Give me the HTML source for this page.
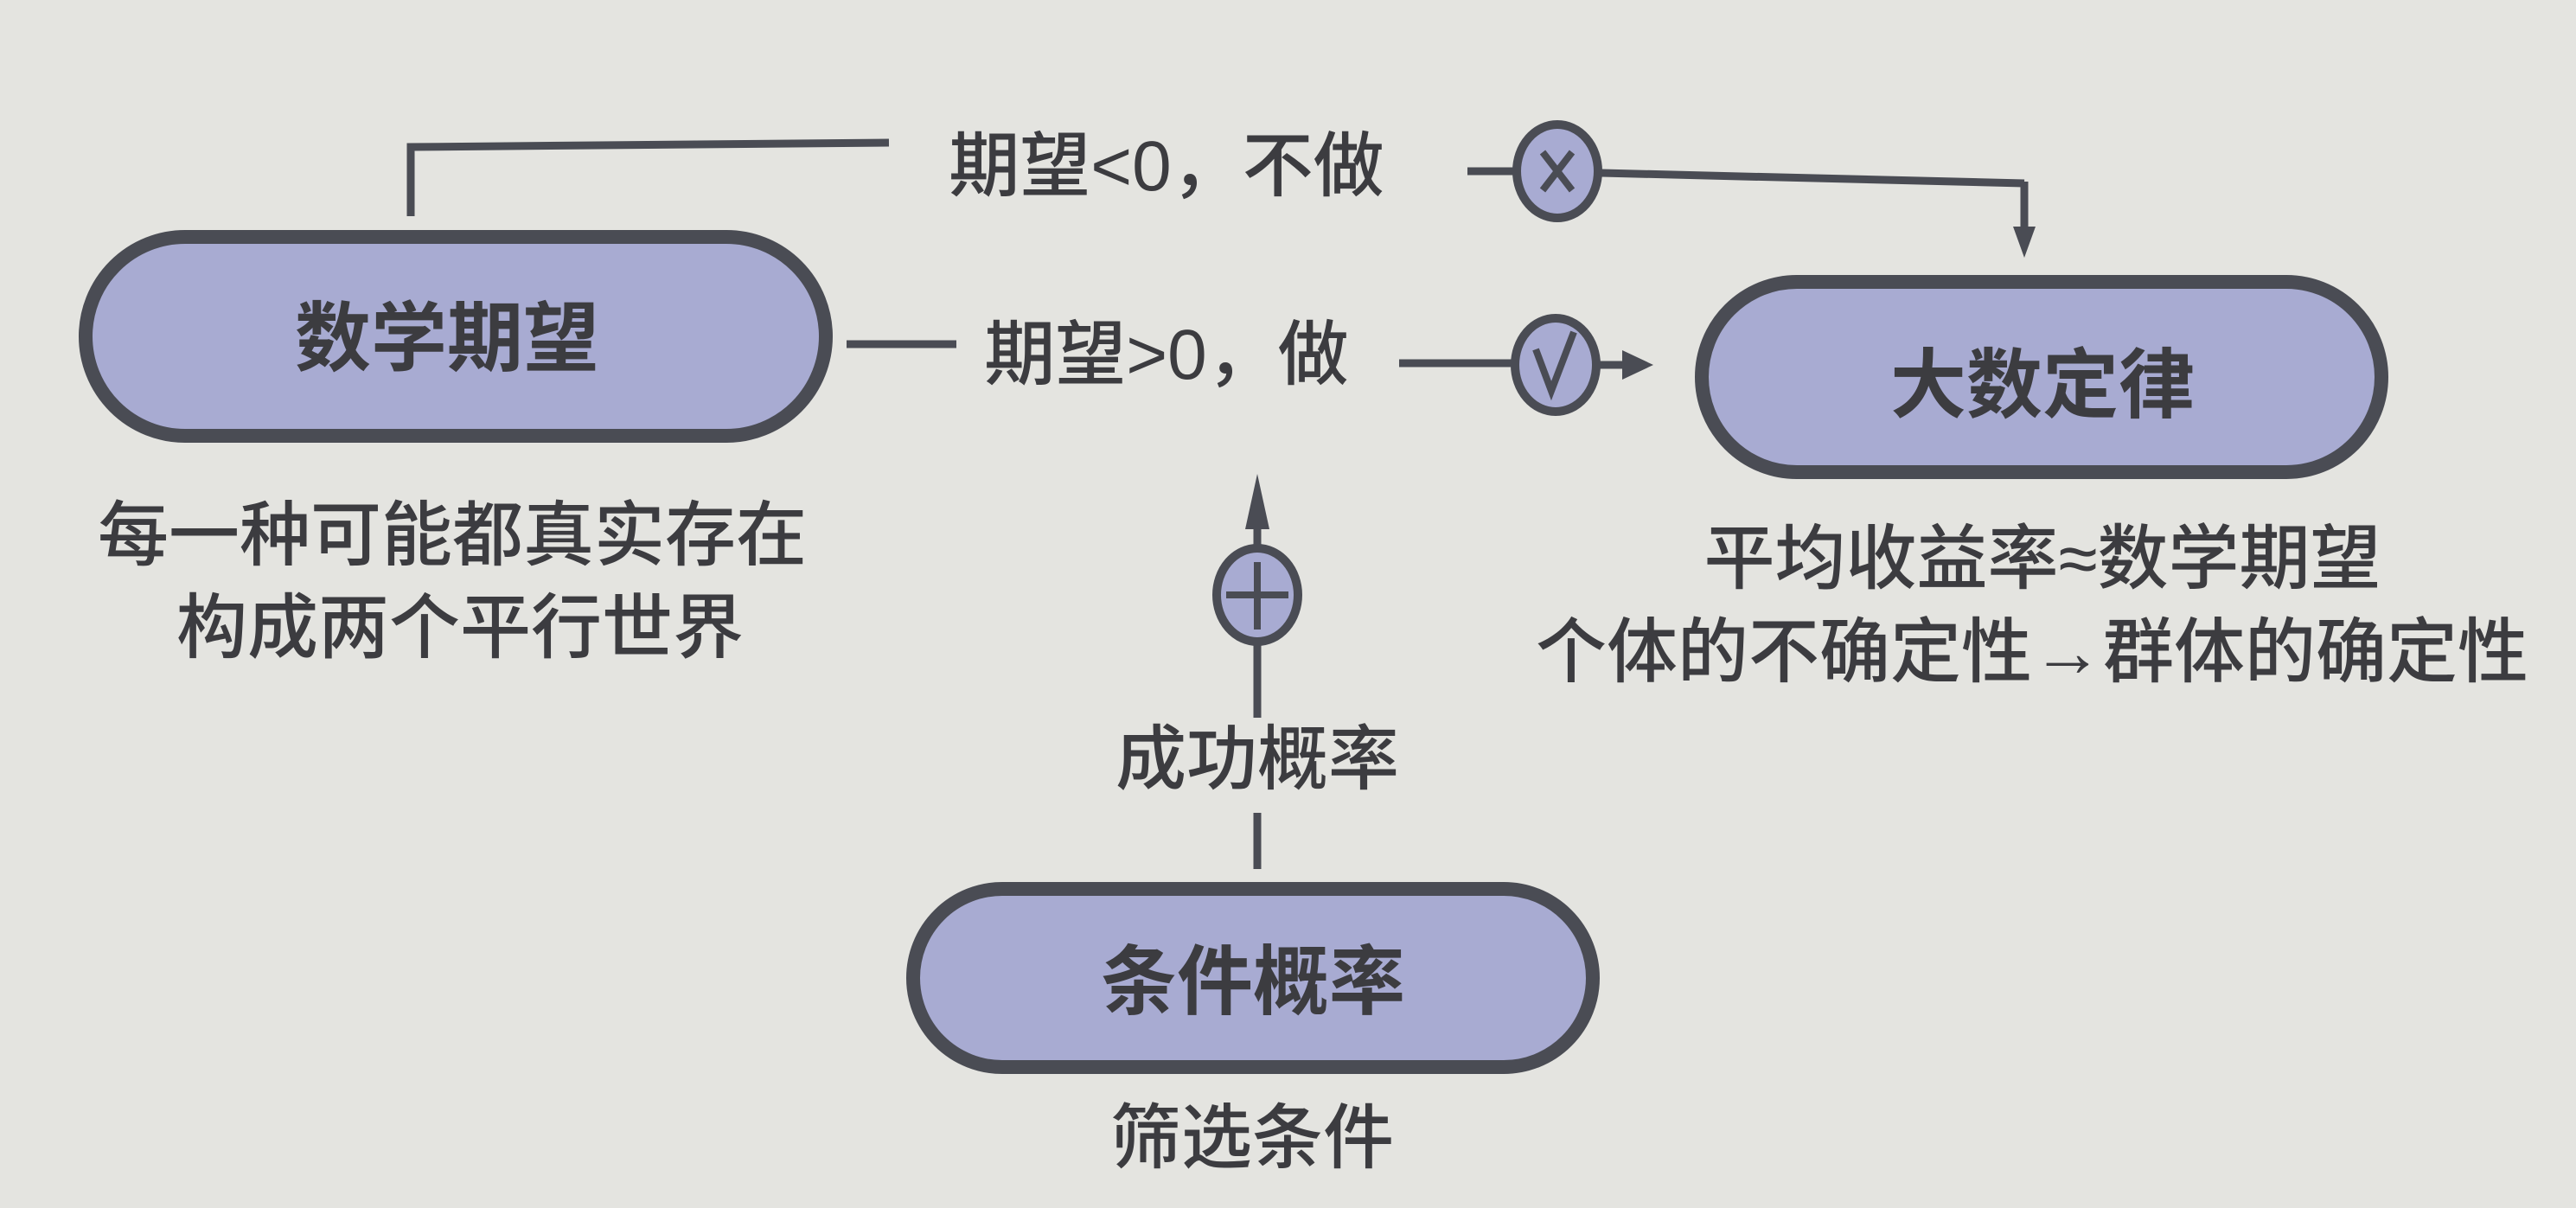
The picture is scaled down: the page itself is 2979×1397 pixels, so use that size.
<!DOCTYPE html>
<html><head><meta charset="utf-8"><style>
html,body{margin:0;padding:0;background:#e4e4e0;}
svg{display:block}
text{font-family:"Liberation Sans","Noto Sans CJK SC",sans-serif;fill:#3c3c40;}
</style></head><body>
<svg width="2979" height="1397" viewBox="0 0 2979 1397" xmlns="http://www.w3.org/2000/svg">
<rect width="2979" height="1397" fill="#e4e4e0"/>
<g stroke="#4a4c54" fill="none" stroke-width="9">
<polyline points="475,250 475,170 1028,165"/>
<line x1="1697" y1="198" x2="1750" y2="198"/>
<line x1="1852" y1="200" x2="2341" y2="212"/>
<line x1="2341" y1="210" x2="2341" y2="270"/>
<line x1="979" y1="398" x2="1106" y2="398"/>
<line x1="1618" y1="420" x2="1748" y2="420"/>
<line x1="1850" y1="422" x2="1880" y2="422"/>
<line x1="1454" y1="610" x2="1454" y2="640"/>
<line x1="1454" y1="736" x2="1454" y2="830"/>
<line x1="1454" y1="940" x2="1454" y2="1005"/>
</g>
<polygon points="2328,262 2354,262 2341,298" fill="#4a4c54"/>
<polygon points="1876,405 1876,439 1912,422" fill="#4a4c54"/>
<polygon points="1440,612 1468,612 1454,548" fill="#4a4c54"/>
<g stroke="#4a4c54" stroke-width="10" fill="#a8abd2">
<ellipse cx="1801" cy="198" rx="47" ry="54"/>
<ellipse cx="1799" cy="422" rx="47" ry="54"/>
<ellipse cx="1454" cy="688" rx="47" ry="54"/>
</g>
<g stroke="#4a4c54" stroke-width="8" fill="none">
<line x1="1784" y1="176" x2="1818" y2="220"/><line x1="1818" y1="176" x2="1784" y2="220"/>
<polyline points="1776,404 1794,452 1820,384"/>
<line x1="1454" y1="650" x2="1454" y2="728"/><line x1="1418" y1="688" x2="1490" y2="688"/>
</g>
<g stroke="#4a4c54" stroke-width="16" fill="#a8abd2">
<rect x="99" y="274" width="856" height="230" rx="115"/>
<rect x="1968" y="326" width="786" height="220" rx="110"/>
<rect x="1056" y="1028" width="786" height="206" rx="103"/>
</g>
<g font-weight="bold" font-size="88" text-anchor="middle">
<text x="517" y="422">数学期望</text>
<text x="2362" y="476">大数定律</text>
<text x="1449" y="1166">条件概率</text>
</g>
<g font-size="82" font-weight="500" text-anchor="middle">
<text x="1349" y="220">期望&lt;0，不做</text>
<text x="1349" y="438">期望&gt;0，做</text>
<text x="1454" y="906">成功概率</text>
<text x="523" y="647">每一种可能都真实存在</text>
<text x="532" y="754">构成两个平行世界</text>
<text x="2362" y="674">平均收益率≈数学期望</text>
<text x="2350" y="782">个体的不确定性→群体的确定性</text>
<text x="1448" y="1344">筛选条件</text>
</g>
</svg>
</body></html>
